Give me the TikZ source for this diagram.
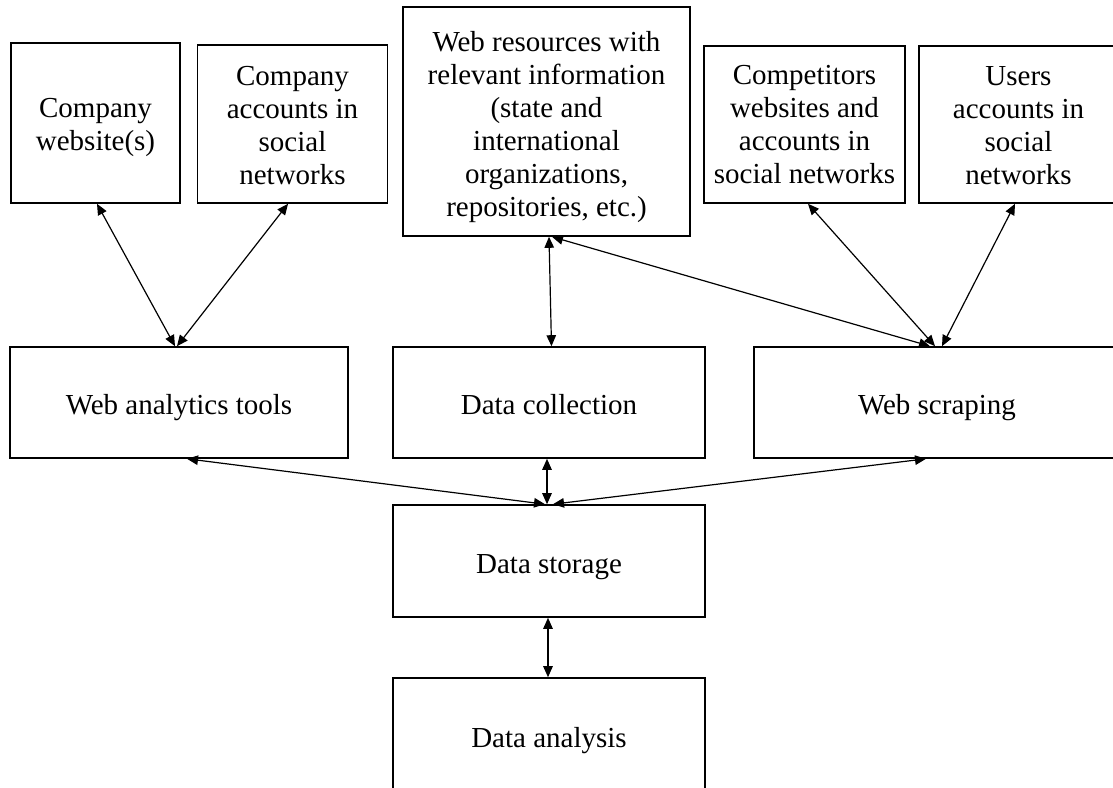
\documentclass[tikz,border=0pt]{standalone}
\usepackage{fontspec}
\setmainfont{Liberation Serif}
\usetikzlibrary{arrows.meta}
\tikzset{
  box/.style={draw, line width=1.6pt, rectangle, align=center, inner sep=0pt,
    font=\fontsize{29}{33}\selectfont},
  oneline/.style={text height=26pt, text depth=2pt},
  link/.style={line width=1.2pt, {Triangle[length=11pt,width=9.5pt]}-{Triangle[length=11pt,width=9.5pt]}}
}
\begin{document}
\begin{tikzpicture}[x=1pt,y=-1pt]
\clip (0,0) rectangle (1113,787);
\fill[white] (0,0) rectangle (1113,787);
% top row
\node[box, minimum width=169pt, minimum height=160pt] (cw) at (95.5,123) {\rule{0pt}{28pt}Company\\website(s)};
\node[box, minimum width=190pt, minimum height=158pt] (ca) at (292.5,124) {\rule{0pt}{22pt}Company\\accounts in\\social\\networks};
\node[box, minimum width=287pt, minimum height=229pt] (wr) at (546.5,121.5) {\rule{0pt}{31pt}Web resources with\\relevant information\\(state and\\international\\organizations,\\repositories, etc.)};
\node[box, minimum width=201pt, minimum height=157pt] (cp) at (804.5,124.5) {Competitors\\websites and\\accounts in\\social networks};
\node[box, minimum width=199pt, minimum height=157pt] (us) at (1018.5,124.5) {\rule{0pt}{22pt}Users\\accounts in\\social\\networks};
% middle row
\node[box, oneline, minimum width=338pt, minimum height=111pt] (wa) at (179,402.5) {Web analytics tools};
\node[box, oneline, minimum width=312pt, minimum height=111pt] (dc) at (549,402.5) {Data collection};
\node[box, oneline, minimum width=366pt, minimum height=111pt] (ws) at (937,402.5) {Web scraping};
% lower
\node[box, oneline, minimum width=312pt, minimum height=112pt] (ds) at (549,561) {Data storage};
\node[box, oneline, minimum width=312pt, minimum height=114pt] (da) at (549,735) {Data analysis};
% connectors
\draw[link] ([xshift=1.5pt]cw.south) -- ([xshift=-4pt]wa.north);
\draw[link] ([xshift=-4.5pt]ca.south) -- ([xshift=-2pt]wa.north);
\draw[link] ([xshift=2.5pt]wr.south) -- ([xshift=2.5pt]dc.north);
\draw[link] ([xshift=5.5pt]wr.south) -- ([xshift=-7pt]ws.north);
\draw[link] ([xshift=3.5pt]cp.south) -- ([xshift=-2pt]ws.north);
\draw[link] ([xshift=-3.5pt]us.south) -- ([xshift=5pt]ws.north);
\draw[link] ([xshift=8pt]wa.south) -- ([xshift=-4pt]ds.north);
\draw[link] ([xshift=-2pt]dc.south) -- ([xshift=-2pt]ds.north);
\draw[link] ([xshift=-11pt]ws.south) -- ([xshift=4pt]ds.north);
\draw[link] ([xshift=-1pt]ds.south) -- ([xshift=-1pt]da.north);
\end{tikzpicture}
\end{document}
